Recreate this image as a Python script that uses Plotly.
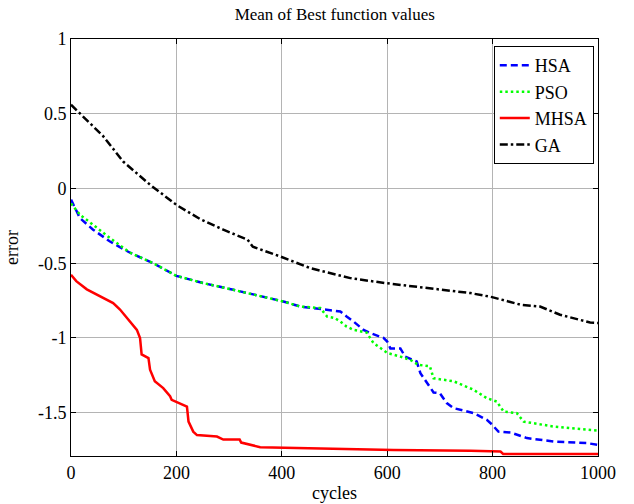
import plotly.graph_objects as go

# ---- data ----
ga_x = [0, 61, 99, 150, 200, 245, 289, 335, 345, 397, 454, 530, 596, 675, 758, 799, 853, 890, 928, 985, 1000]
ga_y = [0.56, 0.35, 0.18, 0.025, -0.11, -0.205, -0.276, -0.343, -0.39, -0.455, -0.533, -0.60, -0.633,
        -0.667, -0.70, -0.727, -0.778, -0.79, -0.845, -0.897, -0.90]

hsa_x = [0, 17, 42, 74, 112, 156, 200, 251, 308, 365, 403, 435, 479, 511, 523, 536, 555, 568, 593, 600,
         606, 625, 634, 656, 663, 675, 688, 700, 713, 726, 764, 789, 799, 811, 834, 865, 916, 979, 1000]
hsa_y = [-0.075, -0.198, -0.276, -0.355, -0.43, -0.50, -0.585, -0.633, -0.678, -0.723, -0.756, -0.79,
         -0.812, -0.823, -0.857, -0.89, -0.946, -0.968, -1.0, -1.024, -1.07, -1.07, -1.125, -1.158,
         -1.236, -1.30, -1.365, -1.37, -1.436, -1.47, -1.503, -1.548, -1.58, -1.627, -1.633, -1.67,
         -1.693, -1.704, -1.715]

pso_x = [0, 17, 42, 74, 112, 156, 200, 251, 308, 365, 403, 435, 473, 486, 500, 511, 523, 536, 561, 574,
         600, 625, 644, 659, 681, 688, 726, 764, 789, 808, 821, 846, 859, 916, 1000]
pso_y = [-0.10, -0.176, -0.243, -0.332, -0.43, -0.50, -0.585, -0.633, -0.678, -0.723, -0.756, -0.79,
         -0.80, -0.857, -0.866, -0.89, -0.924, -0.946, -0.964, -1.035, -1.10, -1.125, -1.147, -1.18,
         -1.19, -1.27, -1.29, -1.347, -1.403, -1.426, -1.493, -1.503, -1.56, -1.593, -1.62]

mhsa_x = [0, 10, 30, 61, 80, 93, 106, 125, 131, 134, 147, 150, 159, 175, 188, 191, 220, 223, 232, 239, 277,
          289, 320, 323, 359, 511, 612, 758, 815, 820, 1000]
mhsa_y = [-0.578, -0.62, -0.675, -0.733, -0.767, -0.81, -0.867, -0.946, -1.0, -1.11, -1.135, -1.213, -1.29,
          -1.336, -1.39, -1.414, -1.46, -1.56, -1.627, -1.65, -1.66, -1.68, -1.68, -1.70, -1.731, -1.745,
          -1.75, -1.755, -1.76, -1.776, -1.776]

x_ticks = [0, 200, 400, 600, 800, 1000]
x_tick_labels = ["0", "200", "400", "600", "800", "1000"]
y_ticks = [1, 0.5, 0, -0.5, -1, -1.5]
y_tick_labels = ["1", "0.5", "0", "-0.5", "-1", "-1.5"]

FONT = "Liberation Serif, Times New Roman, serif"

fig = go.Figure()
fig.add_trace(go.Scatter(x=hsa_x, y=hsa_y, mode="lines", name="HSA", legendgroup="a",
                         line=dict(color="#0000FF", width=2.5, dash="7px,4px")))
fig.add_trace(go.Scatter(x=pso_x, y=pso_y, mode="lines", name="PSO", legendgroup="b",
                         line=dict(color="#00FF00", width=2.5, dash="2.5px,3px")))
fig.add_trace(go.Scatter(x=mhsa_x, y=mhsa_y, mode="lines", name="MHSA", legendgroup="c",
                         line=dict(color="#FF0000", width=2.5)))
fig.add_trace(go.Scatter(x=ga_x, y=ga_y, mode="lines", name="GA", legendgroup="d",
                         line=dict(color="#000000", width=2.5, dash="8px,3px,2.5px,3px")))

axis_common = dict(showline=True, linecolor="black", linewidth=1, mirror="ticks",
                   ticks="inside", ticklen=5, tickcolor="black", automargin=False,
                   showgrid=True, gridcolor="#b4b4b4", gridwidth=1, zeroline=False,
                   tickfont=dict(family=FONT, size=18, color="black"))

fig.update_xaxes(range=[0, 1000], tickvals=x_ticks, ticktext=x_tick_labels,
                 title=dict(text="cycles", font=dict(family=FONT, size=18, color="black"), standoff=4),
                 **axis_common)
fig.update_yaxes(range=[-1.79, 1], tickvals=y_ticks, ticktext=y_tick_labels,
                 title=dict(text="error", font=dict(family=FONT, size=18, color="black"), standoff=14),
                 **axis_common)

fig.update_layout(
    width=634, height=504,
    margin=dict(l=71, r=36, t=39, b=48),
    paper_bgcolor="white", plot_bgcolor="white",
    font=dict(family=FONT, size=18, color="black"),
    title=dict(text="Mean of Best function values", x=0.528, xanchor="center", y=0.972, yanchor="middle",
               font=dict(family=FONT, size=17, color="black")),
    legend=dict(x=0.992, y=0.983, xanchor="right", yanchor="top",
                bgcolor="white", bordercolor="black", borderwidth=1,
                font=dict(family=FONT, size=18, color="black"),
                traceorder="grouped", tracegroupgap=0, itemwidth=30),
    showlegend=True,
)

fig.write_html("out.html")
